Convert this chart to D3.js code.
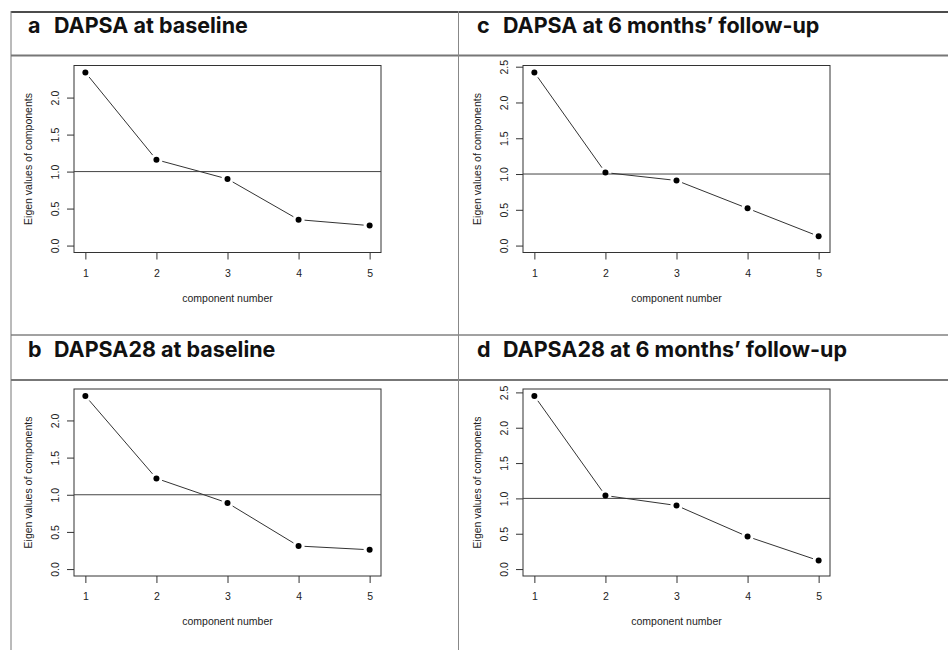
<!DOCTYPE html>
<html>
<head>
<meta charset="utf-8">
<script src="https://cdn.jsdelivr.net/npm/d3@7"></script>
<style>
    body { margin: 0; background: #fff; }
    svg { display: block; }
</style>
</head>
<body>
<div id="chart"></div>
<script>
// Scree plots, eigen values per component
const components = [1, 2, 3, 4, 5];
const dapsaBaseline = [2.34, 1.16, 0.90, 0.35, 0.27];
const dapsa28Baseline = [2.33, 1.22, 0.89, 0.31, 0.26];
const dapsaFollowup = [2.42, 1.02, 0.91, 0.52, 0.13];
const dapsa28Followup = [2.45, 1.04, 0.90, 0.46, 0.12];
const yTicksBaseline = [0, 0.5, 1, 1.5, 2];
const yTicksFollowup = [0, 0.5, 1, 1.5, 2, 2.5];
const panelLetters = ["a", "b", "c", "d"];
const panelTitles = [
    "DAPSA at baseline",
    "DAPSA28 at baseline",
    "DAPSA at 6 months\u2019 follow-up",
    "DAPSA28 at 6 months\u2019 follow-up"
];
const cutoff = 1;

const width = 948;
const height = 650;

const svg = d3.select("#chart")
    .append("svg")
    .attr("width", width)
    .attr("height", height);

// table grid around the four panels
const grid = svg.append("g");
grid.append("line").attr("x1", 11).attr("x2", width).attr("y1", 12).attr("y2", 12)
    .attr("stroke", "#111").attr("stroke-width", 1.5);
grid.append("line").attr("x1", 11).attr("x2", width).attr("y1", 55.5).attr("y2", 55.5)
    .attr("stroke", "#777").attr("stroke-width", 2);
grid.append("line").attr("x1", 11).attr("x2", width).attr("y1", 335).attr("y2", 335)
    .attr("stroke", "#444").attr("stroke-width", 1);
grid.append("line").attr("x1", 11).attr("x2", width).attr("y1", 380).attr("y2", 380)
    .attr("stroke", "#777").attr("stroke-width", 2);
grid.append("line").attr("x1", 11).attr("x2", 11).attr("y1", 11).attr("y2", height)
    .attr("stroke", "#777").attr("stroke-width", 1);
grid.append("line").attr("x1", 458.5).attr("x2", 458.5).attr("y1", 11).attr("y2", height)
    .attr("stroke", "#888").attr("stroke-width", 1);

const panels = [
    { values: dapsaBaseline, ticks: yTicksBaseline, left: 74, top: 65.5, titleX: 28, titleY: 33 },
    { values: dapsa28Baseline, ticks: yTicksBaseline, left: 74, top: 389, titleX: 28, titleY: 357 },
    { values: dapsaFollowup, ticks: yTicksFollowup, left: 523, top: 65.5, titleX: 477, titleY: 33 },
    { values: dapsa28Followup, ticks: yTicksFollowup, left: 523, top: 389, titleX: 477, titleY: 357 }
];

const plotW = 307;
const plotH = 187;

panels.forEach((p, i) => {
    // header
    svg.append("text")
        .attr("x", p.titleX)
        .attr("y", p.titleY)
        .style("font-family", "Inter, 'Open Sans', sans-serif")
        .style("font-weight", "700")
        .style("font-size", "21.5px")
        .style("fill", "#111")
        .text(panelLetters[i]);

    svg.append("text")
        .attr("x", p.titleX + 26)
        .attr("y", p.titleY)
        .style("font-family", "Inter, 'Open Sans', sans-serif")
        .style("font-weight", "700")
        .style("font-size", "21.5px")
        .style("fill", "#111")
        .text(panelTitles[i]);

    const g = svg.append("g")
        .attr("transform", `translate(${p.left},${p.top})`);

    const maxV = d3.max(p.values);
    const x = d3.scaleLinear()
        .domain([1 - 0.04 * 4, 5 + 0.04 * 4])
        .range([0, plotW]);
    const y = d3.scaleLinear()
        .domain([-0.04 * maxV, maxV * 1.04])
        .range([plotH, 0]);

    // axes
    const xAxis = g.append("g")
        .attr("transform", `translate(0,${plotH})`)
        .call(d3.axisBottom(x).tickValues(components).tickSize(7).tickPadding(10).tickFormat(d3.format("d")));
    const yAxis = g.append("g")
        .call(d3.axisLeft(y).tickValues(p.ticks).tickSize(7).tickFormat(d3.format(".1f")));

    [xAxis, yAxis].forEach(a => {
        a.select(".domain").remove();
        a.selectAll(".tick line").attr("stroke", "#333");
        a.selectAll("text")
            .style("font-family", "'Liberation Sans', Arial, sans-serif")
            .style("font-size", "10.5px")
            .style("fill", "#222");
    });

    yAxis.selectAll(".tick text")
        .attr("transform", "rotate(-90)")
        .attr("x", 0)
        .attr("y", -15)
        .attr("dy", 0)
        .style("text-anchor", "middle");

    // box
    g.append("rect")
        .attr("x", 0).attr("y", 0)
        .attr("width", plotW).attr("height", plotH)
        .attr("fill", "none")
        .attr("stroke", "#333")
        .attr("stroke-width", 1);

    // reference line at eigen value 1
    g.append("line")
        .attr("x1", 0).attr("x2", plotW)
        .attr("y1", y(cutoff)).attr("y2", y(cutoff))
        .attr("stroke", "#444")
        .attr("stroke-width", 1);

    // line segments with gaps around the points (type = "b")
    const pts = components.map((c, k) => [x(c), y(p.values[k])]);
    const gap = 6;
    const segs = d3.pairs(pts).map(([a, b]) => {
        const dx = b[0] - a[0], dy = b[1] - a[1];
        const len = Math.sqrt(dx * dx + dy * dy);
        const ux = dx / len, uy = dy / len;
        return [a[0] + ux * gap, a[1] + uy * gap, b[0] - ux * gap, b[1] - uy * gap];
    });

    g.selectAll(".seg")
        .data(segs)
        .enter().append("line")
        .attr("class", "seg")
        .attr("x1", d => d[0]).attr("y1", d => d[1])
        .attr("x2", d => d[2]).attr("y2", d => d[3])
        .attr("stroke", "#333")
        .attr("stroke-width", 1);

    g.selectAll(".pt")
        .data(p.values)
        .enter().append("circle")
        .attr("class", "pt")
        .attr("cx", (d, k) => x(components[k]))
        .attr("cy", d => y(d))
        .attr("r", 3)
        .attr("fill", "#000");

    // axis titles
    g.append("text")
        .attr("x", plotW / 2)
        .attr("y", plotH + 49)
        .style("text-anchor", "middle")
        .style("font-family", "'Liberation Sans', Arial, sans-serif")
        .style("font-size", "10.5px")
        .style("fill", "#222")
        .text("component number");

    g.append("text")
        .attr("transform", "rotate(-90)")
        .attr("x", -plotH / 2)
        .attr("y", -42)
        .style("text-anchor", "middle")
        .style("font-family", "'Liberation Sans', Arial, sans-serif")
        .style("font-size", "10.5px")
        .style("fill", "#222")
        .text("Eigen values of components");
});
</script>
</body>
</html>
